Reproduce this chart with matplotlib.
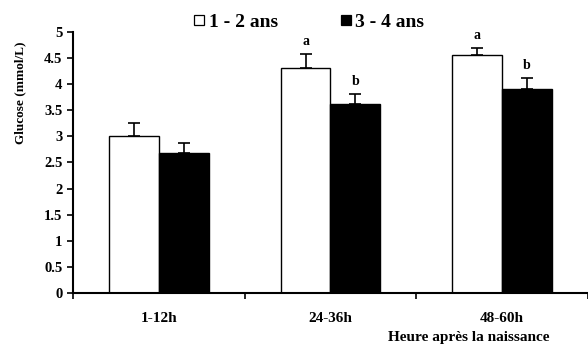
import matplotlib
matplotlib.use("Agg")
import matplotlib.pyplot as plt
from matplotlib.lines import Line2D
import numpy as np

categories = ["1-12h", "24-36h", "48-60h"]
series_names = ["1 - 2 ans", "3 - 4 ans"]
young = [3.0, 4.31, 4.56]
young_err = [0.25, 0.27, 0.13]
old = [2.68, 3.63, 3.91]
old_err = [0.19, 0.18, 0.21]
young_letters = ["", "a", "a"]
old_letters = ["", "b", "b"]
yticks = [0, 0.5, 1, 1.5, 2, 2.5, 3, 3.5, 4, 4.5, 5]

plt.rcParams['font.family'] = ['Liberation Serif', 'DejaVu Serif']
plt.rcParams['font.weight'] = 'bold'

fig = plt.figure(figsize=(5.88, 3.45), dpi=100)
ax = fig.add_axes([0.124, 0.151, 0.876, 0.756])

x = np.arange(len(categories))
w = 0.29
b1 = ax.bar(x - w/2, young, w, color='white', edgecolor='black', linewidth=1.0,
            yerr=[np.zeros(3), young_err], capsize=4,
            error_kw=dict(ecolor='black', elinewidth=1.2, capthick=1.2), label=series_names[0])
b2 = ax.bar(x + w/2, old, w, color='black', edgecolor='black', linewidth=1.0,
            yerr=[np.zeros(3), old_err], capsize=4,
            error_kw=dict(ecolor='black', elinewidth=1.2, capthick=1.2), label=series_names[1])

for i in range(3):
    if young_letters[i]:
        ax.text(x[i] - w/2, young[i] + young_err[i] + 0.12, young_letters[i],
                ha='center', va='bottom', fontsize=10, fontweight='bold')
    if old_letters[i]:
        ax.text(x[i] + w/2, old[i] + old_err[i] + 0.12, old_letters[i],
                ha='center', va='bottom', fontsize=10, fontweight='bold')

ax.set_xlim(-0.5, 2.5)
ax.set_ylim(0, 5)
ax.set_yticks(yticks)
ax.set_yticklabels([f"{t:g}" for t in yticks], fontsize=10.5, fontweight='bold')
ax.set_xticks([-0.5, 0.5, 1.5, 2.5])
ax.set_xticklabels([])
ax.tick_params(axis='both', direction='out', length=4, width=1.2)
for i, c in enumerate(categories):
    ax.text(x[i], -0.5, c, ha='center', va='center', fontsize=11, fontweight='bold')
ax.spines['top'].set_visible(False)
ax.spines['right'].set_visible(False)
ax.spines['left'].set_linewidth(1.5)
ax.spines['bottom'].set_linewidth(1.5)

fig.text(0.035, 0.73, "Glucose (mmol/L)", rotation=90, ha='center', va='center',
         fontsize=9.5, fontweight='bold')
fig.text(0.798, 0.022, "Heure après la naissance", ha='center', va='center',
         fontsize=11, fontweight='bold')

h1 = Line2D([], [], marker='s', linestyle='none', markersize=7.5,
            markerfacecolor='white', markeredgecolor='black', markeredgewidth=0.9)
h2 = Line2D([], [], marker='s', linestyle='none', markersize=7.5,
            markerfacecolor='black', markeredgecolor='black', markeredgewidth=0.9)
fig.legend(handles=[h1, h2], labels=series_names, loc='center', bbox_to_anchor=(0.525, 0.937),
           ncol=2, frameon=False, handlelength=0.6, handletextpad=0.2, columnspacing=3.2,
           prop={'weight': 'bold', 'size': 14})

fig.savefig("out.png", dpi=100)
